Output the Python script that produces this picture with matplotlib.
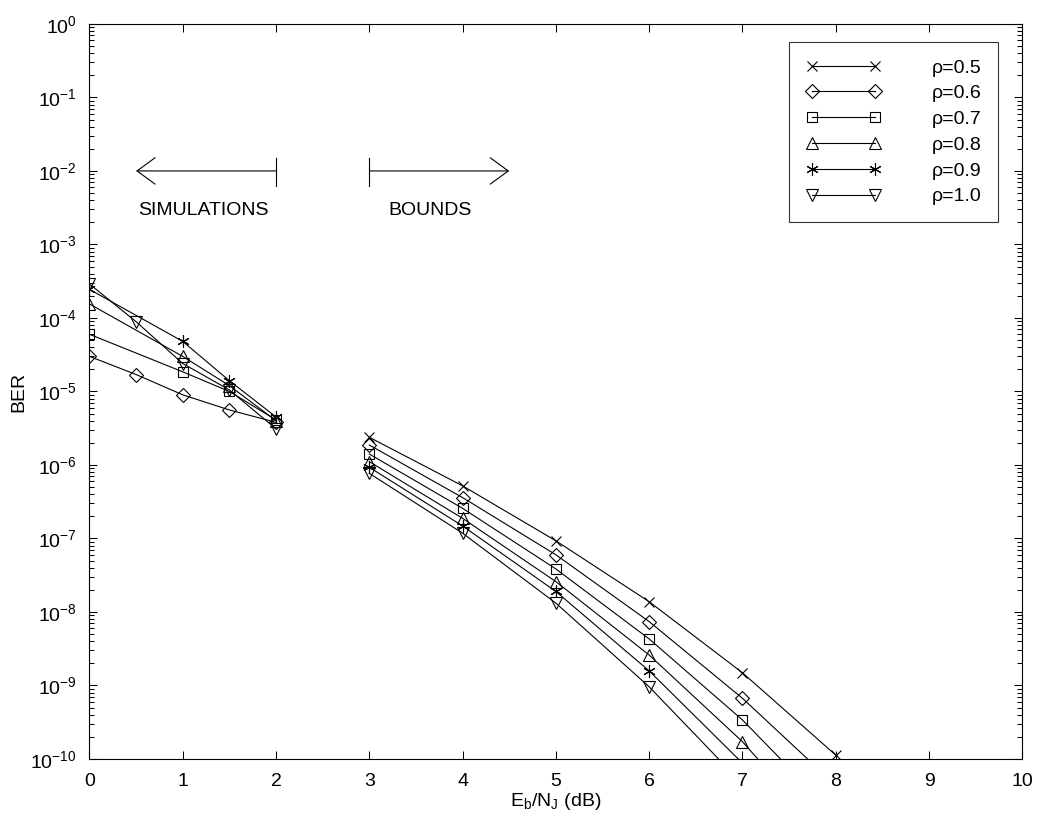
import numpy as np
import matplotlib
matplotlib.use('Agg')
import matplotlib.pyplot as plt
from matplotlib.ticker import NullFormatter, FixedLocator, LogFormatterSciNotation

plt.rcParams['font.family'] = ['Liberation Sans', 'DejaVu Sans']
plt.rcParams['mathtext.fontset'] = 'custom'
plt.rcParams['mathtext.rm'] = 'Liberation Sans'
plt.rcParams['mathtext.it'] = 'Liberation Sans'
plt.rcParams['mathtext.bf'] = 'Liberation Sans:bold'

# simulated BER (low Eb/NJ)
sim_x = {
    '0.5': [],
    '0.6': [0, 0.5, 1, 1.5, 2],
    '0.7': [0, 1, 1.5, 2],
    '0.8': [0, 1, 1.5, 2],
    '0.9': [0, 1, 1.5, 2],
    '1.0': [0, 0.5, 1, 1.5, 2],
}
sim_ber = {
    '0.5': [],
    '0.6': [3.0e-5, 1.7e-5, 9.0e-6, 5.6e-6, 3.8e-6],
    '0.7': [6.0e-5, 1.85e-5, 1.0e-5, 4.1e-6],
    '0.8': [1.55e-4, 3.0e-5, 1.2e-5, 4.0e-6],
    '0.9': [2.45e-4, 4.8e-5, 1.4e-5, 4.5e-6],
    '1.0': [2.9e-4, 8.9e-5, 2.4e-5, 1.05e-5, 3.1e-6],
}

# upper bounds (high Eb/NJ)
bnd_x = [3, 4, 5, 6, 7, 8]
bnd_ber = {
    '0.5': [2.38e-6, 5.2e-7, 9.3e-8, 1.38e-8, 1.49e-9, 1.13e-10],
    '0.6': [1.87e-6, 3.6e-7, 6.0e-8, 7.4e-9, 6.7e-10, 4.4e-11],
    '0.7': [1.41e-6, 2.57e-7, 3.85e-8, 4.3e-9, 3.4e-10, 1.7e-11],
    '0.8': [1.11e-6, 1.88e-7, 2.59e-8, 2.6e-9, 1.72e-10, 6.3e-12],
    '0.9': [9.3e-7, 1.48e-7, 1.9e-8, 1.58e-9, 8.8e-11, 4.0e-12],
    '1.0': [7.7e-7, 1.18e-7, 1.32e-8, 9.6e-10, 4.6e-11, 2.0e-12],
}

rhos = ['0.5', '0.6', '0.7', '0.8', '0.9', '1.0']
markers = {'0.5': 'x', '0.6': 'D', '0.7': 's', '0.8': '^', '0.9': (6, 2, 0), '1.0': 'v'}
msizes = {'0.5': 7, '0.6': 7, '0.7': 7, '0.8': 9, '0.9': 9, '1.0': 9}

ymin = 1e-10
fs = 14

fig = plt.figure(figsize=(10.4, 8.25), dpi=100)
ax = fig.add_axes([0.086, 0.080, 0.897, 0.891])

for r in rhos:
    kw = dict(color='black', lw=0.8, marker=markers[r], ms=msizes[r],
              mfc='none', mec='black', mew=0.8)
    # legend handle
    ax.plot([], [], label=f'ρ={r}', **kw)
    if sim_x[r]:
        ax.plot(sim_x[r], sim_ber[r], **kw)
    # bound curves: line through all points, markers only inside the axes
    ax.plot(bnd_x, bnd_ber[r], color='black', lw=0.8)
    bx = [x for x, b in zip(bnd_x, bnd_ber[r]) if b >= ymin]
    bb = [b for b in bnd_ber[r] if b >= ymin]
    ax.plot(bx, bb, ls='none', marker=markers[r], ms=msizes[r],
            mfc='none', mec='black', mew=0.8)

ax.set_yscale('log')
ax.set_xlim(0, 10)
ax.set_ylim(ymin, 1)
decades = np.arange(-10, 1)
ax.xaxis.set_major_locator(FixedLocator(np.arange(0, 11)))
ax.yaxis.set_major_locator(FixedLocator(10.0 ** decades))
ax.yaxis.set_major_formatter(LogFormatterSciNotation())
minor = [m * 10.0 ** d for d in decades[:-1] for m in range(2, 10)]
ax.yaxis.set_minor_locator(FixedLocator(minor))
ax.yaxis.set_minor_formatter(NullFormatter())
ax.tick_params(which='both', direction='in', top=True, right=True,
               labelsize=fs, width=0.75)
ax.tick_params(which='major', length=6)
ax.tick_params(which='minor', length=3.5)
ax.tick_params(axis='x', pad=10)
ax.tick_params(axis='y', pad=9)
for s in ax.spines.values():
    s.set_linewidth(0.8)

ax.set_xlabel(r'$\mathregular{E_b/N_J}$ (dB)', fontsize=fs, labelpad=1)
ax.set_ylabel('BER', fontsize=fs, labelpad=2)

# region markers
arr = dict(arrowstyle='->,head_length=1.3,head_width=0.95', color='black',
           lw=0.8, shrinkA=0, shrinkB=0, mutation_scale=10)
ax.annotate('', xy=(0.5, 1e-2), xytext=(2.0, 1e-2), arrowprops=arr)
ax.annotate('', xy=(4.5, 1e-2), xytext=(3.0, 1e-2), arrowprops=arr)
ax.plot([2, 2], [1.5e-2, 6.2e-3], color='black', lw=0.8)
ax.plot([3, 3], [1.5e-2, 6.2e-3], color='black', lw=0.8)
ax.text(0.52, 2.9e-3, 'SIMULATIONS', fontsize=fs, va='center', ha='left')
ax.text(3.2, 2.9e-3, 'BOUNDS', fontsize=fs, va='center', ha='left')

leg = ax.legend(loc='upper right', bbox_to_anchor=(998 / 1040, 1 - 42 / 825),
                bbox_transform=fig.transFigure, borderaxespad=0,
                numpoints=2, fontsize=fs, frameon=True, fancybox=False,
                edgecolor='black', handlelength=3.87, handletextpad=2.58,
                labelspacing=0.42, borderpad=0.87)
leg.get_frame().set_linewidth(0.8)

fig.savefig('out.png', dpi=100)
